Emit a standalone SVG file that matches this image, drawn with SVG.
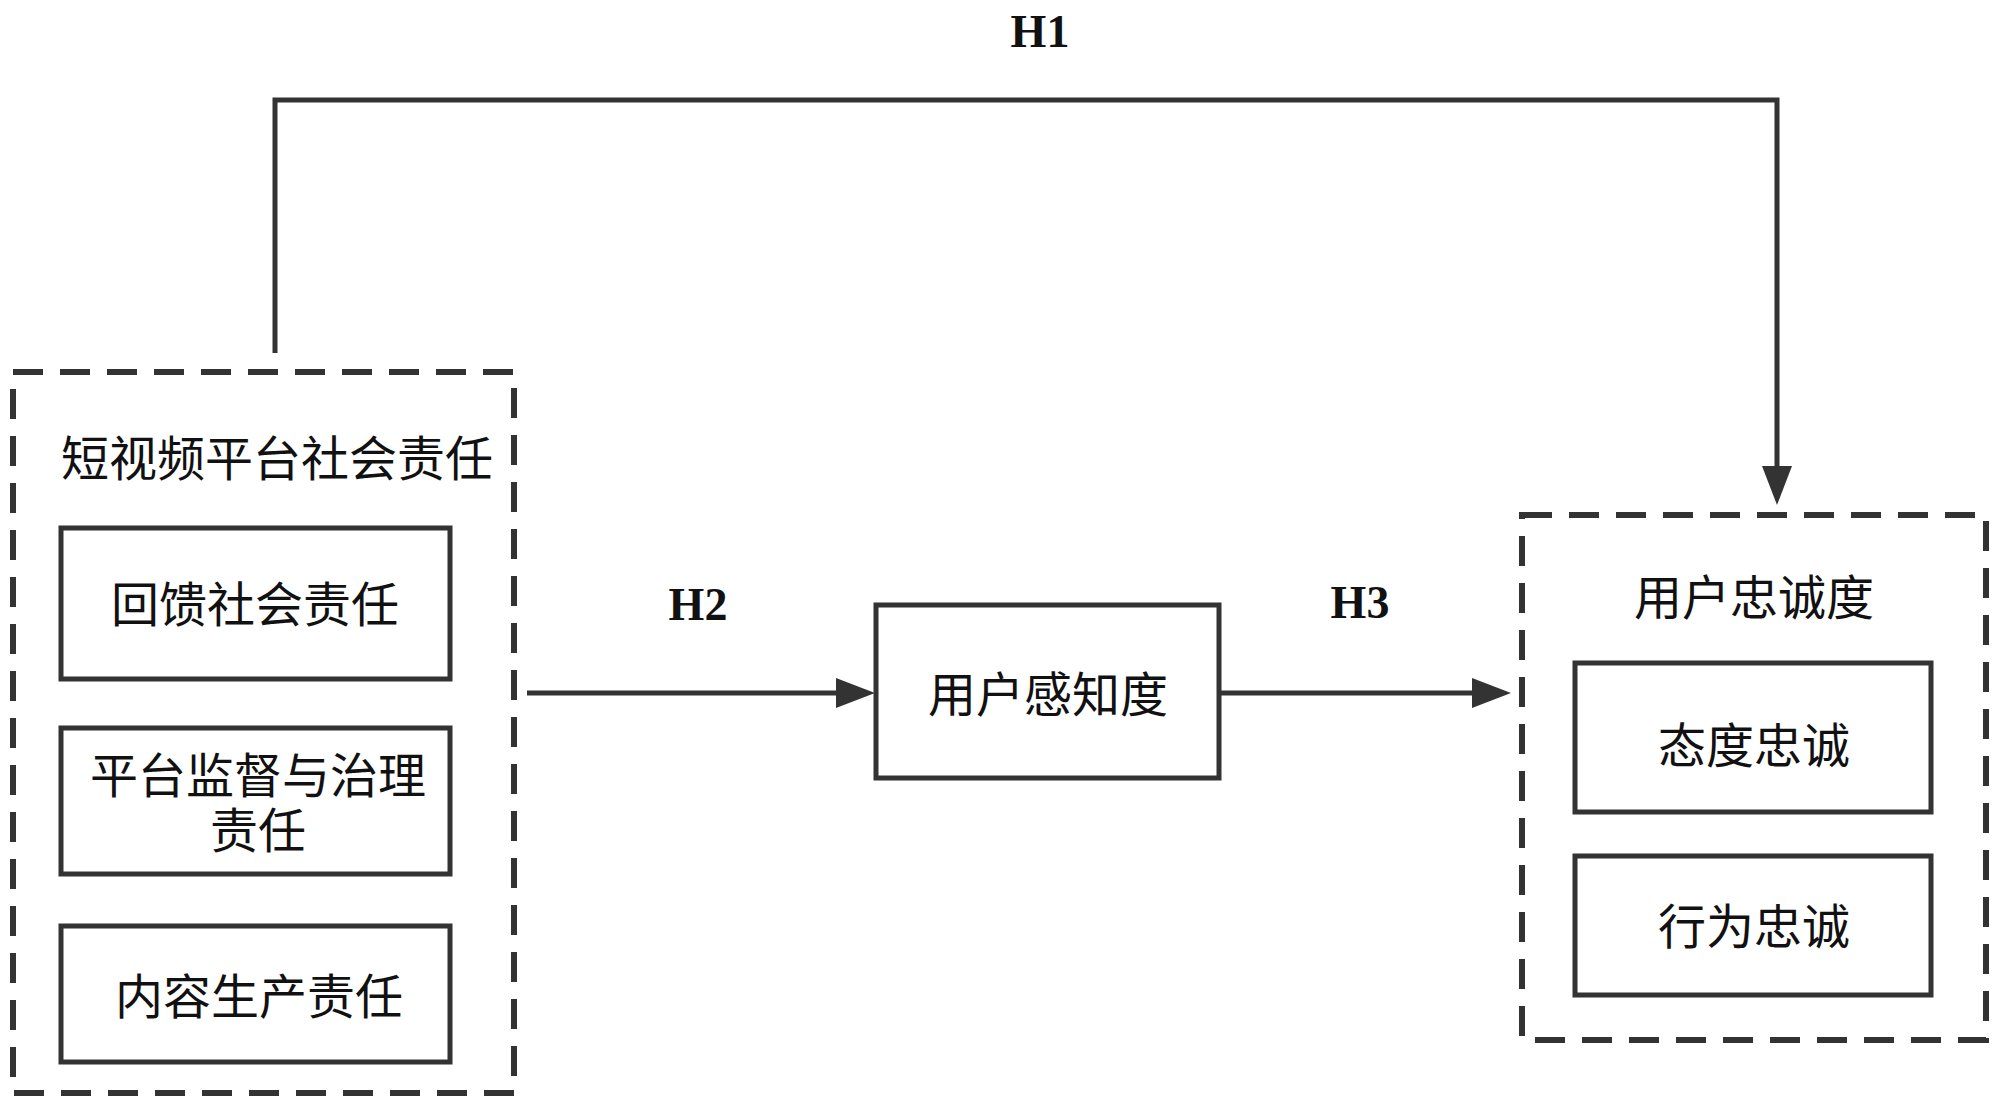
<svg xmlns="http://www.w3.org/2000/svg" width="2000" height="1110" viewBox="0 0 2000 1110">
<defs>
<style>
.dash{fill:none;stroke:#333;stroke-width:6;stroke-dasharray:30 17}
.box{fill:#fff;stroke:#333;stroke-width:5}
.line{fill:none;stroke:#333;stroke-width:5}
.head{fill:#333}
.cn{font-family:"Noto Sans CJK SC","Noto Sans CJK JP",sans-serif;font-size:48px;fill:#111;text-anchor:middle}
.h{font-family:"Liberation Serif","Times New Roman",serif;font-weight:bold;font-size:46px;fill:#111;text-anchor:middle}
</style>
</defs>
<rect width="2000" height="1110" fill="#fff"/>
<g id="connectors">
<polyline class="line" points="275,353 275,100 1777,100 1777,468"/>
<polygon class="head" points="1762,466 1792,466 1777,505"/>
<line class="line" x1="527" y1="693" x2="838" y2="693"/>
<polygon class="head" points="836,678 836,708 875,693"/>
<line class="line" x1="1219" y1="693" x2="1474" y2="693"/>
<polygon class="head" points="1472,678 1472,708 1511,693"/>
<text class="h" x="1040" y="47">H1</text>
<text class="h" x="698" y="620">H2</text>
<text class="h" x="1360" y="618">H3</text>
</g>
<g id="csr">
<rect class="dash" x="13" y="372" width="501" height="721"/>
<text class="cn" x="277" y="476">短视频平台社会责任</text>
</g>
<g id="feedback">
<rect class="box" x="61" y="528" width="389" height="151"/>
<text class="cn" x="255" y="622">回馈社会责任</text>
</g>
<g id="supervision">
<rect class="box" x="61" y="728" width="389" height="146"/>
<text class="cn" x="258" y="793">平台监督与治理<tspan x="258" dy="55">责任</tspan></text>
</g>
<g id="content">
<rect class="box" x="61" y="926" width="389" height="136"/>
<text class="cn" x="259" y="1014">内容生产责任</text>
</g>
<g id="perception">
<rect class="box" x="876" y="605" width="343" height="173"/>
<text class="cn" x="1048" y="712">用户感知度</text>
</g>
<g id="loyalty">
<rect class="dash" x="1522" y="515" width="464" height="525"/>
<text class="cn" x="1754" y="615">用户忠诚度</text>
</g>
<g id="attitude">
<rect class="box" x="1575" y="663" width="356" height="149"/>
<text class="cn" x="1754" y="763">态度忠诚</text>
</g>
<g id="behavior">
<rect class="box" x="1575" y="856" width="356" height="139"/>
<text class="cn" x="1754" y="944">行为忠诚</text>
</g>
</svg>
